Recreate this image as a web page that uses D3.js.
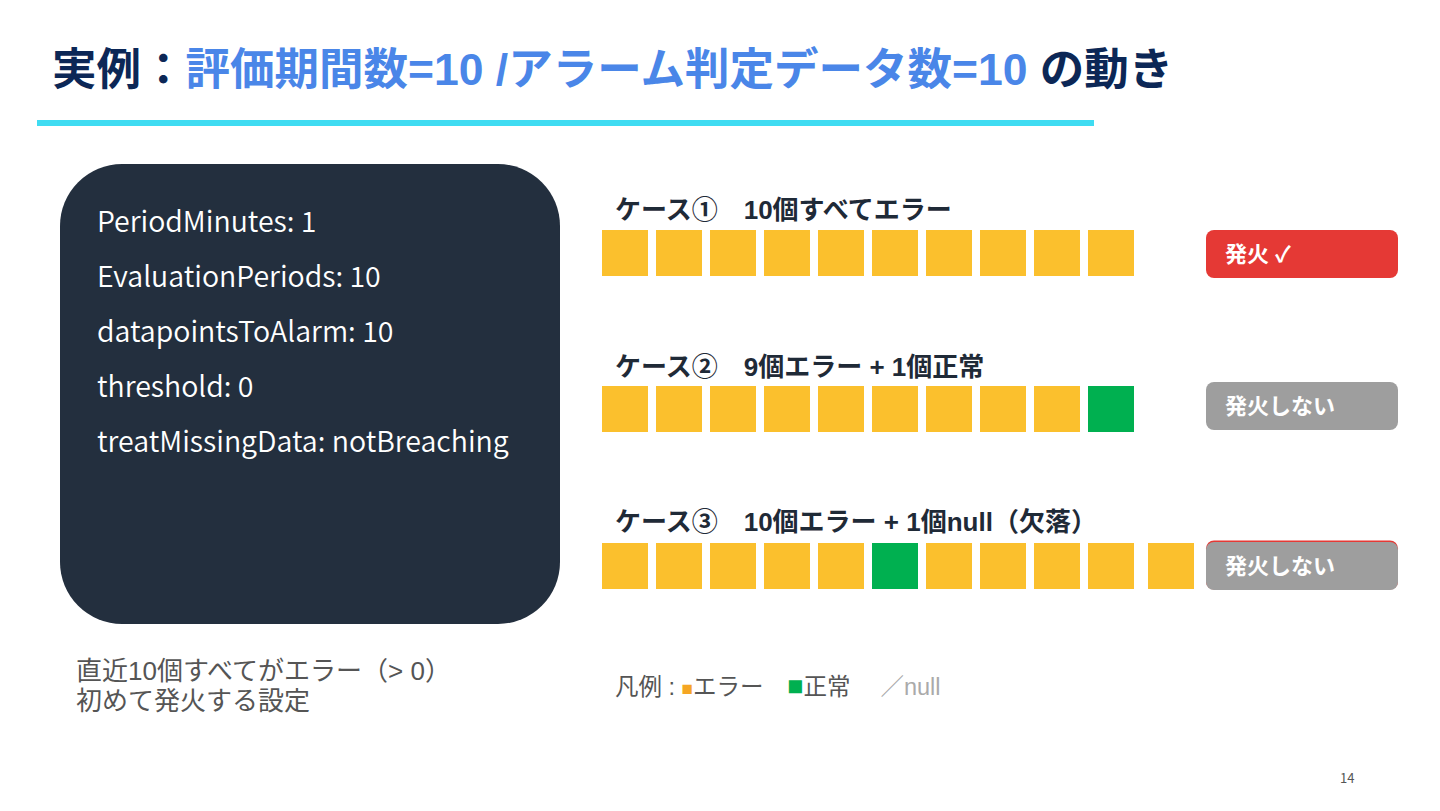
<!DOCTYPE html>
<html><head><meta charset="utf-8">
<script src="https://cdn.jsdelivr.net/npm/d3@7/dist/d3.min.js"></script>
<style>
html,body{margin:0;padding:0;background:#fff;}
svg{display:block;}
text{white-space:pre;}
</style></head>
<body>
<svg id="c" width="1440" height="811"></svg>
<script>
// ---- data ----
const titleParts = ["実例：", "評価期間数=10 /アラーム判定データ数=10", " の動き"];
const settings = ["PeriodMinutes: 1", "EvaluationPeriods: 10", "datapointsToAlarm: 10", "threshold: 0", "treatMissingData: notBreaching"];
const noteLines = ["直近10個すべてがエラー（> 0）", "初めて発火する設定"];
const caseLabels = ["ケース①　10個すべてエラー", "ケース②　9個エラー + 1個正常", "ケース③　10個エラー + 1個null（欠落）"];
const caseCells = [
  ["E","E","E","E","E","E","E","E","E","E"],
  ["E","E","E","E","E","E","E","E","E","N"],
  ["E","E","E","E","E","N","E","E","E","E","E"]
];
const caseResults = ["発火 ✓", "発火しない", "発火しない"];
const caseFired = [true, false, false];
const legendItems = [["■","エラー"],["■","正常"],["／","null"]];
const pageNo = "14";

// ---- styles ----
const C = {navy:"#0c2756", blue:"#4a86e8", cyan:"#3fdcf2", panel:"#232f3e", E:"#fbc02d", N:"#00b050",
           red:"#e53935", gray:"#9e9e9e", label:"#1f2a37", note:"#555"};
const latinCJK = "'Liberation Sans', Arial, 'Noto Sans CJK JP', sans-serif";
const sourceCJK = "'Noto Sans CJK JP', 'Noto Sans', sans-serif";

const svg = d3.select("#c");

// title
const t = svg.append("text").attr("x", 52).attr("y", 85)
  .attr("font-family", latinCJK).attr("font-weight", "bold").attr("font-size", 44.5);
t.selectAll("tspan").data(titleParts).join("tspan")
  .attr("fill", (d,i) => i === 1 ? C.blue : C.navy).text(d => d);

svg.append("rect").attr("x", 37).attr("y", 120).attr("width", 1057).attr("height", 6).attr("fill", C.cyan);

// panel
svg.append("rect").attr("x", 60).attr("y", 164).attr("width", 500).attr("height", 460)
  .attr("rx", 62).attr("fill", C.panel);
const yS = d3.scalePoint().domain(d3.range(settings.length)).range([232, 452]);
svg.selectAll("text.set").data(settings).join("text").attr("class","set")
  .attr("x", 97).attr("y", (d,i) => yS(i))
  .attr("font-family", sourceCJK).attr("font-size", 28.5).attr("font-weight", 350).attr("fill", "#fff")
  .text(d => d);

// note
svg.selectAll("text.note").data(noteLines).join("text").attr("class","note")
  .attr("x", 76).attr("y", (d,i) => 680 + i*30)
  .attr("font-family", latinCJK).attr("font-size", 26).attr("fill", C.note).text(d => d);

// cases
const caseY = d3.scaleOrdinal().domain([0,1,2]).range([230, 386, 543]);
const labelY = d3.scaleOrdinal().domain([0,1,2]).range([219, 376, 531]);
const xS = d3.scaleBand().domain(d3.range(10)).range([602, 602 + 54*10 - 8]).paddingInner(8/54).paddingOuter(0);
const cellW = xS.bandwidth();

caseCells.forEach((cells, ci) => {
  const g = svg.append("g");
  g.append("text").attr("x", 615).attr("y", labelY(ci))
    .attr("font-family", latinCJK).attr("font-weight", "bold").attr("font-size", 26).attr("fill", C.label)
    .text(caseLabels[ci]);
  g.selectAll("rect.cell").data(cells).join("rect").attr("class","cell")
    .attr("x", (d,i) => i < 10 ? xS(i) : xS(9) + xS.step() + 6)
    .attr("y", caseY(ci)).attr("width", cellW).attr("height", 46)
    .attr("fill", d => C[d]);
  const by = ci === 2 ? 542 : (ci === 0 ? 230 : 382);
  if (ci === 2) {
    g.append("rect").attr("x", 1206).attr("y", by - 1.5).attr("width", 192).attr("height", 49)
      .attr("rx", 8).attr("fill", C.red);
  }
  g.append("rect").attr("x", 1206).attr("y", by).attr("width", 192).attr("height", 48)
    .attr("rx", 8).attr("fill", caseFired[ci] ? C.red : C.gray);
  g.append("text").attr("x", 1225).attr("y", by + 32)
    .attr("font-family", latinCJK).attr("font-weight", "bold").attr("font-size", 22).attr("fill", "#fff")
    .text(caseResults[ci]);
});

// legend
const lg = svg.append("text").attr("x", 615).attr("y", 695)
  .attr("font-family", latinCJK).attr("font-size", 23.5).attr("fill", C.note);
lg.append("tspan").text("凡例 : ");
const legColors = ["#f5a623", C.N, "#aaa"];
legendItems.forEach((it, i) => {
  if (i > 0) lg.append("tspan").text(i === 2 ? "　 " : "　");
  lg.append("tspan").attr("fill", legColors[i]).attr("font-size", i === 0 ? 19 : (i === 1 ? 27 : 23.5)).text(it[0]);
  lg.append("tspan").attr("fill", i === 2 ? "#aaa" : C.note).attr("font-size", 23.5).text(it[1]);
});

svg.append("text").attr("x", 1340).attr("y", 783).attr("font-family", sourceCJK)
  .attr("font-size", 13).attr("fill", "#555").text(pageNo);
</script>
</body></html>
